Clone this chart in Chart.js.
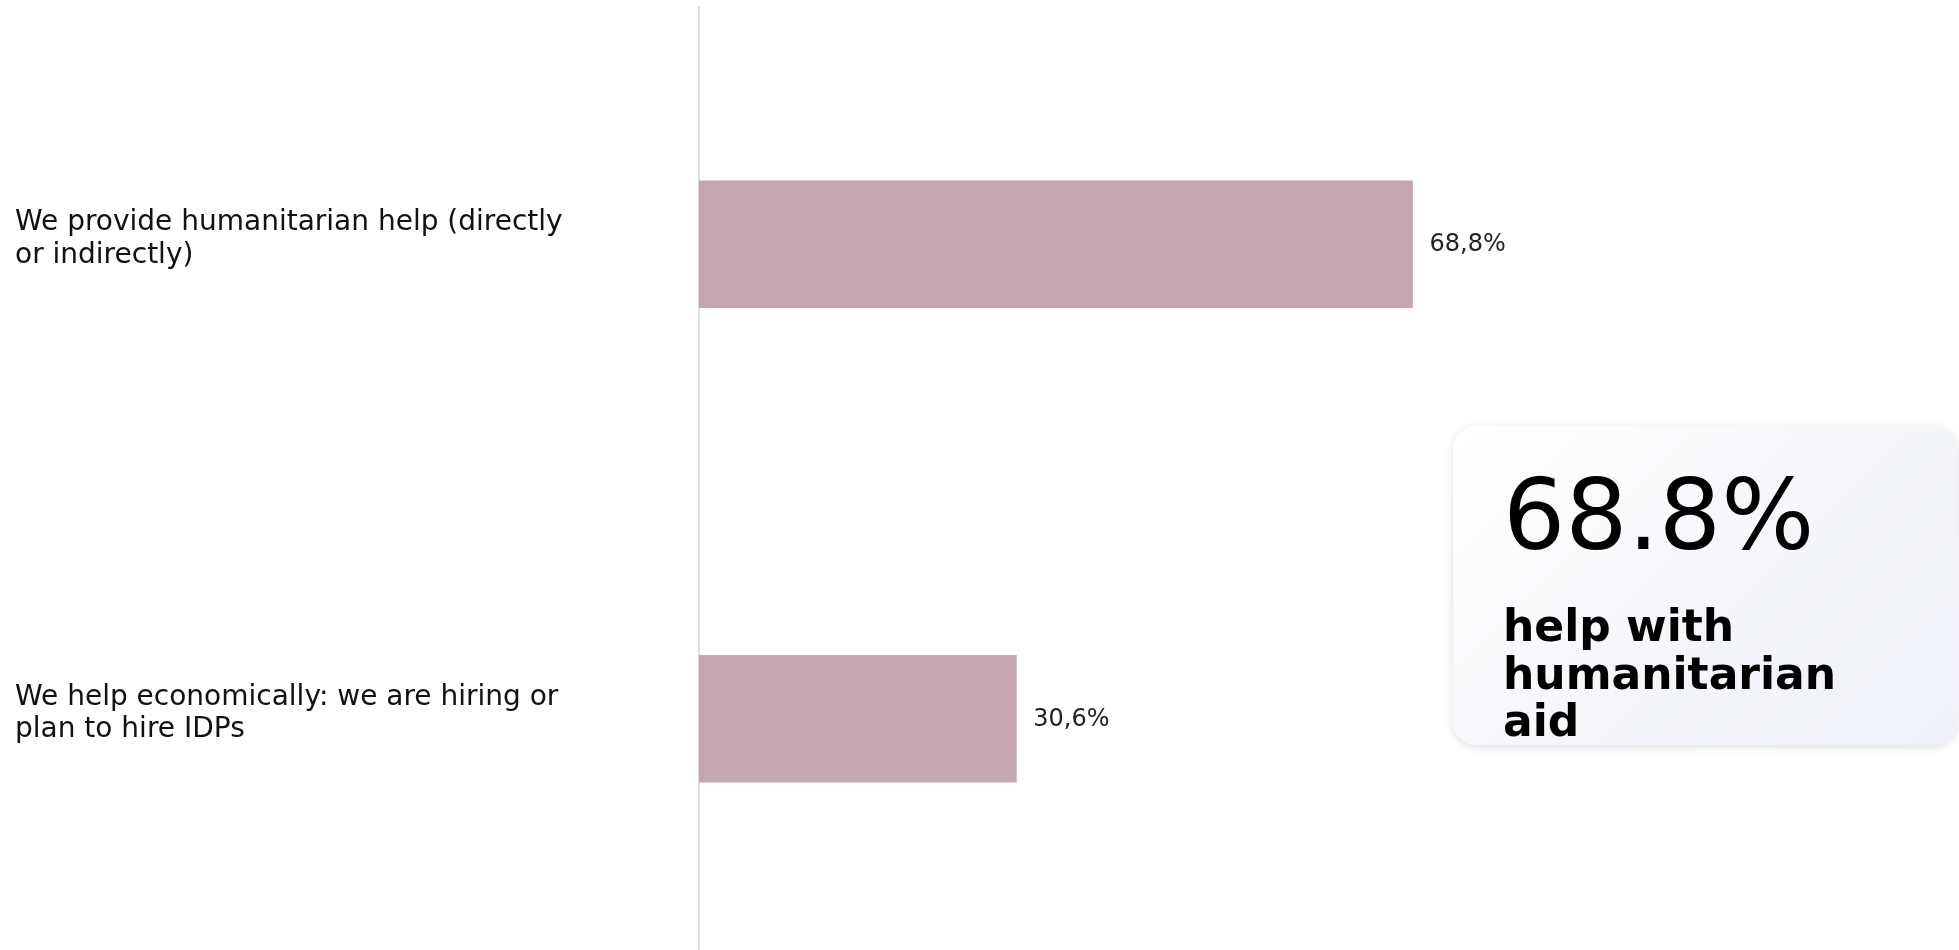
<!DOCTYPE html>
<html>
<head>
<meta charset="utf-8">
<script src="https://cdn.jsdelivr.net/npm/chart.js@4"></script>
<style>
  html, body { margin: 0; padding: 0; background: #fff; }
  #wrap { position: relative; width: 1959px; height: 950px; overflow: hidden; }
  #chart { position: absolute; left: 0; top: 0; }
  .card {
    position: absolute; left: 1453px; top: 426px; width: 504px; height: 319px;
    border-radius: 24px; overflow: hidden;
    background: linear-gradient(135deg, #ffffff 0%, #f4f6fa 55%, #eef1f8 100%);
    box-shadow: 0 2px 10px rgba(0,0,0,0.13);
    font-family: "DejaVu Sans", sans-serif; color: #000;
  }
  .card .big { position: absolute; left: 50px; top: 40px; font-size: 98px; line-height: 1; }
  .card .sub { position: absolute; left: 50px; top: 176px; font-size: 44px; font-weight: bold; line-height: 47.5px; }
</style>
</head>
<body>
<div id="wrap">
  <canvas id="chart" width="1959" height="956"></canvas>
  <div class="card">
    <div class="big">68.8%</div>
    <div class="sub">help with<br>humanitarian<br>aid</div>
  </div>
</div>
<script>
// chart data
const categories = [
    ['We provide humanitarian help (directly', 'or indirectly)'],
    ['We help economically: we are hiring or', 'plan to hire IDPs']
];
const values = [68.8, 30.6];
const valueLabels = ['68,8%', '30,6%'];

// draws value text at the end of each bar
const barValues = {
    id: 'barValues',
    afterDatasetsDraw(chart) {
        const ctx = chart.ctx;
        const meta = chart.getDatasetMeta(0);
        ctx.save();
        ctx.font = '24px "DejaVu Sans", sans-serif';
        ctx.fillStyle = '#222';
        ctx.textAlign = 'left';
        ctx.textBaseline = 'middle';
        meta.data.forEach(function (bar, i) {
            ctx.fillText(valueLabels[i], bar.x + 17, bar.y + 1);
        });
        ctx.restore();
    }
};

new Chart(document.getElementById('chart').getContext('2d'), {
    type: 'bar',
    data: {
        labels: categories,
        datasets: [{
            data: values,
            backgroundColor: '#c4a6b3',
            barThickness: 127
        }]
    },
    options: {
        indexAxis: 'y',
        responsive: false,
        animation: false,
        layout: { padding: { left: 15, top: 7, right: 0, bottom: 0 } },
        plugins: {
            legend: { display: false },
            tooltip: { enabled: false }
        },
        scales: {
            x: {
                display: false,
                min: 0,
                max: 121.5
            },
            y: {
                afterFit(scale) {
                    scale.width = 684;
                    scale.paddingTop = 0;
                    scale.paddingBottom = 0;
                },
                grid: { display: false },
                border: { display: true, color: '#dcdcdc', width: 2 },
                ticks: {
                    crossAlign: 'far',
                    labelOffset: -5,
                    color: '#111',
                    font: { family: '"DejaVu Sans", sans-serif', size: 28, lineHeight: 1.16 }
                }
            }
        }
    },
    plugins: [barValues]
});
</script>
</body>
</html>
